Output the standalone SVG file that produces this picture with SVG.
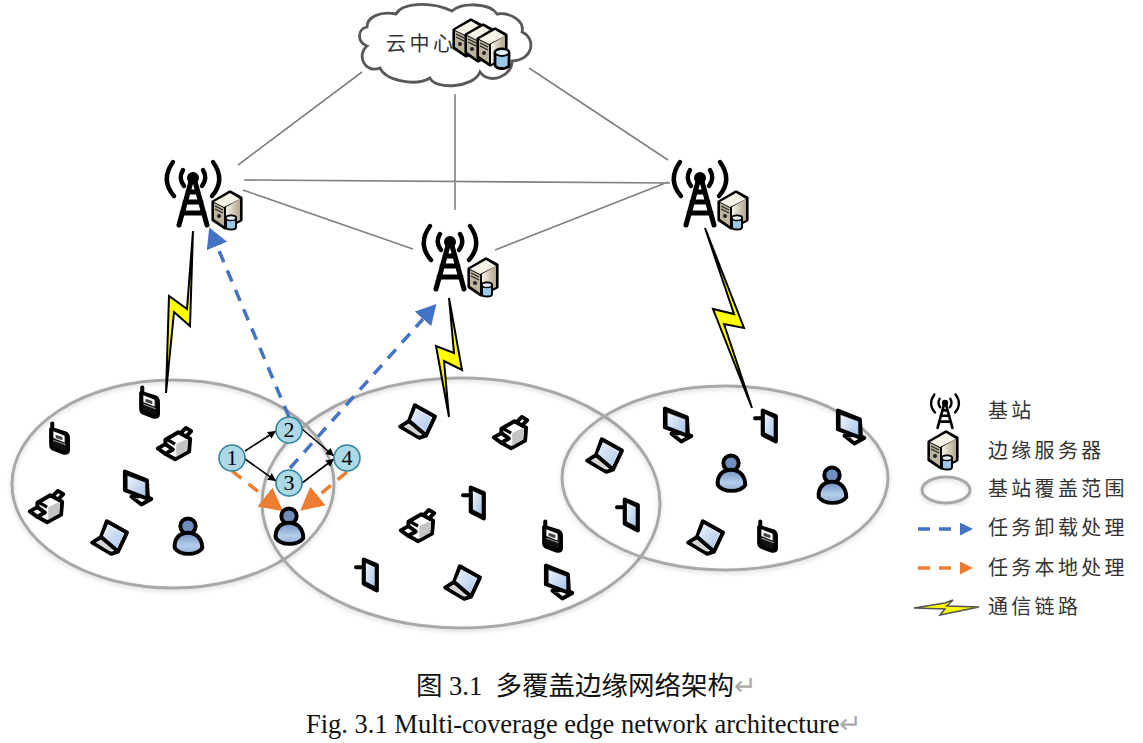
<svg xmlns="http://www.w3.org/2000/svg" width="1143" height="743" viewBox="0 0 1143 743">
<style>
text{font-family:"Noto Sans CJK SC","Liberation Sans",sans-serif;fill:#333}
.lg{font-size:20px;letter-spacing:3.3px}
.cov{fill:none;stroke:#a8a8a8;stroke-width:3;filter:url(#sh)}
.link{stroke:#808080;stroke-width:1.6;fill:none}
.bolt{fill:#ffff00;stroke:#000;stroke-width:2;stroke-linejoin:miter}
.num{font-family:"Liberation Serif",serif;font-size:22px;fill:#000;text-anchor:middle}
.nd{fill:#add8e6;stroke:#31849b;stroke-width:1.6}
.blk{stroke:#000;stroke-width:1.6;fill:none;marker-end:url(#ab)}
.bd{stroke:#4472c4;stroke-width:3.5;stroke-dasharray:12 9;fill:none}
.od{stroke:#ed7d31;stroke-width:3.5;stroke-dasharray:12 9;fill:none}
.ic{stroke:#000;stroke-width:3.6;stroke-linejoin:round;stroke-linecap:round}
.twr{fill:none;stroke:#000;stroke-linecap:round;stroke-width:5}
.cap{font-family:"Liberation Serif","Noto Sans CJK SC",serif;font-size:26.5px;fill:#111;white-space:pre}
.ret{fill:#aaa}
</style>
<defs>
<filter id="sh" x="-5%" y="-5%" width="110%" height="115%"><feDropShadow dx="0" dy="2" stdDeviation="2" flood-color="#000" flood-opacity=".15"/></filter>
<linearGradient id="gs" x1="0" y1="0" x2="1" y2="1"><stop offset="0" stop-color="#eef4fb"/><stop offset="1" stop-color="#a9c6ea"/></linearGradient>
<linearGradient id="gu" x1="0" y1="0" x2="0" y2="1"><stop offset="0" stop-color="#6f8fbf"/><stop offset=".6" stop-color="#b5cdea"/><stop offset="1" stop-color="#8fb0d8"/></linearGradient>
<linearGradient id="gb" x1="0" y1="0" x2="1" y2="0"><stop offset="0" stop-color="#f7f3e8"/><stop offset="1" stop-color="#b3a58a"/></linearGradient>
<marker id="ab" markerUnits="userSpaceOnUse" markerWidth="10" markerHeight="10" refX="8" refY="4" orient="auto"><path d="M0,0L8,4L0,8Z" fill="#000"/></marker>
<marker id="bl" markerUnits="userSpaceOnUse" markerWidth="22" markerHeight="24" refX="0" refY="11" orient="auto"><path d="M0,0L20,11L0,22Z" fill="#4472c4"/></marker>
<marker id="ol" markerUnits="userSpaceOnUse" markerWidth="26" markerHeight="26" refX="0" refY="12" orient="auto"><path d="M0,0L23,12L0,24Z" fill="#ed7d31"/></marker>
<marker id="bs" markerUnits="userSpaceOnUse" markerWidth="14" markerHeight="14" refX="0" refY="6.5" orient="auto"><path d="M0,0L13,6.5L0,13Z" fill="#4472c4"/></marker>
<marker id="os" markerUnits="userSpaceOnUse" markerWidth="14" markerHeight="14" refX="0" refY="6.5" orient="auto"><path d="M0,0L13,6.5L0,13Z" fill="#ed7d31"/></marker>
<g id="tower" class="twr">
<path d="M-1,0L-14,47M1,0L14,47M-5,14H5M-8,24H8M-11,35H11"/>
<circle r="6" fill="#000" stroke="none"/>
<path stroke-width="4.4" d="M-10,-8Q-15,0 -9,8M10,-8Q15,0 9,8M-20,-16Q-33,2 -19,18M20,-16Q33,2 19,18"/>
</g>
<g id="box">
<path d="M3,-18L14,-12V10L-2,18L-14,10V-8Z" fill="#000" stroke="#000" stroke-width="3.2" stroke-linejoin="round"/>
<path d="M3,-17L13,-11L-3,-3L-13,-8Z" fill="#f7f3e6"/>
<path d="M13,-11V10L-1,17V-3Z" fill="url(#gb)"/>
<path d="M-13,-7L-3,-2V16L-13,9Z" fill="#bdb49c"/>
<path d="M-12,-4L-4,0M-12,-1L-4,3" stroke="#222" stroke-width="1.2"/>
<circle cx="-8" cy="6" r="2" fill="#222"/>
</g>
<g id="db">
<path d="M-5,-4V5A5,2.5 0 0 0 5,5V-4A5,2.5 0 0 0 -5,-4Z" fill="#9cc9e8" stroke="#000" stroke-width="2"/>
<ellipse cy="-4" rx="5" ry="2.5" fill="#e8f4fc" stroke="#000" stroke-width="1.4"/>
</g>
<g id="server"><use href="#box"/><use href="#db" x="4" y="12"/></g>
<g id="phone" transform="scale(1.12)">
<path class="ic" d="M-6,-13V-8" stroke-width="4.6" fill="none"/>
<path class="ic" d="M-7,-8L6,-4Q8,-3 8,0V11Q8,14 4,13L-4,10Q-7,9 -7,6Z" fill="#111"/>
<path d="M-5,-6L5,-2V4L-5,0Z" fill="#fff"/>
<path d="M-3,-3L3,-1V2L-3,0Z" fill="#444"/>
<path d="M-5,2L6,6" stroke="#999" stroke-width="1"/>
</g>
<g id="printer" transform="scale(1.08)">
<path class="ic" d="M5,-8L11,-14L16,-11L10,-5Z" fill="#fff" stroke-width="3"/>
<path class="ic" d="M-8,-3L4,-10L15,-4L14,8L1,15L-8,10Z" fill="#fff"/>
<path d="M2,1L13,-4L12,7L2,13Z" fill="#c4c4c4"/>
<path class="ic" d="M-15,5L-8,1L-1,6L-8,10Z" fill="#fff" stroke-width="3"/>
<path d="M-6,-3L1,1" stroke="#000" stroke-width="3"/>
</g>
<g id="monitor" transform="scale(1.1)">
<path class="ic" d="M-5,8L4,15L13,10L7,7Z" fill="#fff" stroke-width="2.4"/>
<path class="ic" d="M-11,-15L9,-7L10,10L-11,2Z" fill="#222"/>
<path d="M-8.5,-11L7.5,-5L7.5,7L-8.5,1Z" fill="url(#gs)"/>
</g>
<g id="laptop" transform="scale(1.12)">
<path class="ic" d="M-2,-14L16,-4L8,13L2,15L-15,5L-7,0Z" fill="#fff"/>
<path d="M-1,-11L13,-3L7,10L-6,0Z" fill="url(#gs)"/>
<path d="M-12,5L-6,2L5,10L1,13Z" fill="#d5d5d5"/>
<path class="ic" d="M-7,0L7,12" fill="none" stroke-width="1.6"/>
</g>
<g id="user" transform="scale(1.1)">
<circle cy="-9" r="7" fill="#6f8fbf" stroke="#000" stroke-width="3.6"/>
<path d="M-12,11C-13,3 -8,-3 0,-3C8,-3 13,3 13,11C8,18 -7,18 -12,11Z" fill="url(#gu)" stroke="#000" stroke-width="3.6" stroke-linejoin="round"/>
</g>
<g id="hand" transform="scale(1.1)">
<path class="ic" d="M-10,-7H-3" stroke-width="5" fill="none"/>
<path class="ic" d="M-3,-14L9,-9V14L-3,8Z" fill="#111" stroke-width="4"/>
<path d="M-1,-11L7,-7V10L-1,6Z" fill="url(#gs)"/>
</g>
</defs>
<rect width="1143" height="743" fill="#fff"/>
<g id="coverage">
<ellipse class="cov" cx="173" cy="484" rx="161" ry="104"/>
<ellipse class="cov" cx="461" cy="503" rx="199" ry="125"/>
<ellipse class="cov" cx="725" cy="478" rx="163" ry="92"/>
</g>
<g id="connectors">
<path class="link" d="M362,72L238,165M455,94V210M529,68L668,160M244,180L670,183M243,190L413,249M495,250L668,182"/>
<polygon class="bolt" points="193,231 187,309 169,296 166,393 174,312 190,326"/>
<polygon class="bolt" points="449,298 454,353 436,346 449,417 444,361 462,370"/>
<polygon class="bolt" points="705,228 734,314 713,309 752,408 724,324 744,328"/>
<path class="bd" d="M289,417L217,246" marker-end="url(#bl)"/>
<path class="bd" d="M290,468L423,319" marker-end="url(#bl)"/>
<path class="od" d="M232,471L265,497" marker-end="url(#ol)"/>
<path class="od" d="M347,472L318,496" marker-end="url(#ol)"/>
<path class="blk" d="M245,451L276,431"/>
<path class="blk" d="M245,459L276,481"/>
<path class="blk" d="M302,429L334,456"/>
<path class="blk" d="M302,483L334,459"/>
</g>
<g id="cloud">
<path d="M367,27C367,17 380,11 396,14C401,4 428,0 452,11C462,2 490,3 497,14C510,12 525,21 522,32C536,38 534,60 512,61C513,75 490,86 480,72C474,88 435,90 430,78C415,87 385,80 380,68C365,74 356,55 367,46C357,42 357,29 367,27Z" fill="#fff" stroke="#595959" stroke-width="2.8"/>
<text class="lg" x="386" y="51" style="font-size:20px;letter-spacing:3.5px">云中心</text>
<use href="#box" x="468" y="38"/><use href="#box" x="480" y="43"/><use href="#box" x="492" y="47"/>
<use href="#db" transform="translate(502,58) scale(1.4)"/>
</g>
<g id="bs1"><use href="#tower" x="193" y="178"/><use href="#server" x="227" y="210"/></g>
<g id="bs2"><use href="#tower" x="450" y="242"/><use href="#server" x="483" y="277"/></g>
<g id="bs3"><use href="#tower" x="700" y="178"/><use href="#server" x="733" y="210"/></g>
<g id="devices">
<use href="#phone" x="149" y="402"/><use href="#phone" x="59" y="438"/><use href="#phone" x="552" y="536"/><use href="#phone" x="767" y="536"/>
<use href="#printer" x="174" y="443"/><use href="#printer" x="46" y="506"/><use href="#printer" x="510" y="432"/><use href="#printer" x="417" y="525"/>
<use href="#monitor" x="137" y="488"/><use href="#monitor" x="558" y="582"/><use href="#monitor" x="677" y="425"/><use href="#monitor" x="850" y="427"/>
<use href="#laptop" x="109" y="537"/><use href="#laptop" x="417" y="421"/><use href="#laptop" x="462" y="582"/><use href="#laptop" x="604" y="455"/><use href="#laptop" x="705" y="537"/>
<use href="#user" x="188" y="536"/><use href="#user" x="289" y="526"/><use href="#user" x="731" y="473"/><use href="#user" x="832" y="485"/>
<use href="#hand" x="474" y="503"/><use href="#hand" x="367" y="575"/><use href="#hand" x="766" y="426"/><use href="#hand" x="628" y="515"/>
</g>
<g id="n1"><circle class="nd" cx="232" cy="458" r="13"/><text class="num" x="232" y="465">1</text></g>
<g id="n2"><circle class="nd" cx="289" cy="430" r="13"/><text class="num" x="289" y="437">2</text></g>
<g id="n3"><circle class="nd" cx="289" cy="483" r="13"/><text class="num" x="289" y="490">3</text></g>
<g id="n4"><circle class="nd" cx="347" cy="458" r="13"/><text class="num" x="347" y="465">4</text></g>
<g id="legend">
<use href="#tower" transform="translate(945,403) scale(.53)"/>
<text class="lg" x="988" y="418">基站</text>
<use href="#server" x="943" y="450"/>
<text class="lg" x="988" y="458">边缘服务器</text>
<ellipse class="cov" cx="946" cy="490" rx="24" ry="13"/>
<text class="lg" x="988" y="496">基站覆盖范围</text>
<path class="bd" d="M918,529H960" marker-end="url(#bs)"/>
<text class="lg" x="988" y="535">任务卸载处理</text>
<path class="od" d="M918,568H960" marker-end="url(#os)"/>
<text class="lg" x="988" y="575">任务本地处理</text>
<path d="M914,608L945,603L953,600L947,606L979,607L940,615L945,609Z" fill="#ffff00" stroke="#555" stroke-width="1.6"/>
<text class="lg" x="988" y="614">通信链路</text>
</g>
<g id="caption">
<text class="cap" x="416" y="695">图 3.1  多覆盖边缘网络架构<tspan class="ret">↵</tspan></text>
<text class="cap" x="306" y="733">Fig. 3.1 Multi-coverage edge network architecture<tspan class="ret">↵</tspan></text>
</g>
</svg>
